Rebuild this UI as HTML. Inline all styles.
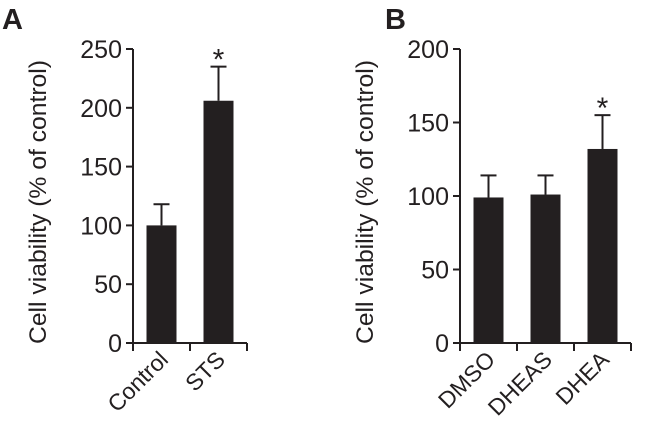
<!DOCTYPE html>
<html><head><meta charset="utf-8"><style>
html,body{margin:0;padding:0;background:#fff;}
svg text{font-family:"Liberation Sans",sans-serif;fill:#231f20;}
</style></head><body>
<svg width="651" height="435" viewBox="0 0 651 435">
<g id="root"></g>
</svg>
<script>
const catsA=["Control","STS"];
const valsA=[100,206];
const errA=[118,235];
const sigA=[false,true];
const ticksA=[0,50,100,150,200,250];
const catsB=["DMSO","DHEAS","DHEA"];
const valsB=[99,101,132];
const errB=[114,114,155];
const sigB=[false,false,true];
const ticksB=[0,50,100,150,200];
const NS="http://www.w3.org/2000/svg";
const root=document.getElementById('root');
function mk(tag,attrs,parent){const e=document.createElementNS(NS,tag);for(const k in attrs)e.setAttribute(k,attrs[k]);(parent||root).appendChild(e);return e;}
function panel(letter,lx,ax,max,ticks,cats,vals,errs,sig,step){
  const g=mk('g',{});
  
  
  const y0=343,yTop=49;
  const y=v=>y0-(v/max)*(y0-yTop);
  const xEnd=ax+step*cats.length;
  const t=mk('text',{x:lx,y:29,'font-size':29,'font-weight':'bold'},g);t.textContent=letter;
  
  mk('line',{x1:ax,y1:yTop,x2:ax,y2:y0,stroke:'#231f20','stroke-width':2},g);
  mk('line',{x1:ax,y1:y0,x2:xEnd,y2:y0,stroke:'#231f20','stroke-width':2},g);
  ticks.forEach(v=>{
    mk('line',{x1:ax-7,y1:y(v),x2:ax,y2:y(v),stroke:'#231f20','stroke-width':2},g);
    const tt=mk('text',{x:ax-11,y:y(v)+9,'font-size':25,'text-anchor':'end'},g);tt.textContent=v;
    
  });
  for(let i=0;i<=cats.length;i++){mk('line',{x1:ax+step*i,y1:y0,x2:ax+step*i,y2:y0+8,stroke:'#231f20','stroke-width':2},g);}
  const yt=mk('text',{transform:`translate(${ax-87},${(y0+yTop)/2+6}) rotate(-90)`,'font-size':24,'text-anchor':'middle',textLength:284,lengthAdjust:'spacingAndGlyphs'},g);
  yt.textContent='Cell viability (% of control)';
  
  cats.forEach((c,i)=>{
    const cx=ax+step*i+step/2;const bw=30;
    mk('line',{x1:cx,y1:y(errs[i]),x2:cx,y2:y(vals[i]),stroke:'#231f20','stroke-width':2},g);
    mk('line',{x1:cx-8,y1:y(errs[i]),x2:cx+8,y2:y(errs[i]),stroke:'#231f20','stroke-width':2},g);
    const r=mk('rect',{x:cx-bw/2,y:y(vals[i]),width:bw,height:y0-y(vals[i]),fill:'#231f20'},g);
    
    if(sig[i]){const s=mk('text',{x:cx,y:y(errs[i])+3,'font-size':30,'text-anchor':'middle'},g);s.textContent='*';
      }
    const xl=mk('text',{transform:`translate(${cx+8},${y0+18}) rotate(-45)`,'font-size':23,'text-anchor':'end'},g);
    xl.textContent=c;
  });
}
panel('A',2,133,250,ticksA,catsA,valsA,errA,sigA,57);
panel('B',385,460,200,ticksB,catsB,valsB,errB,sigB,57);
</script>
</body></html>
